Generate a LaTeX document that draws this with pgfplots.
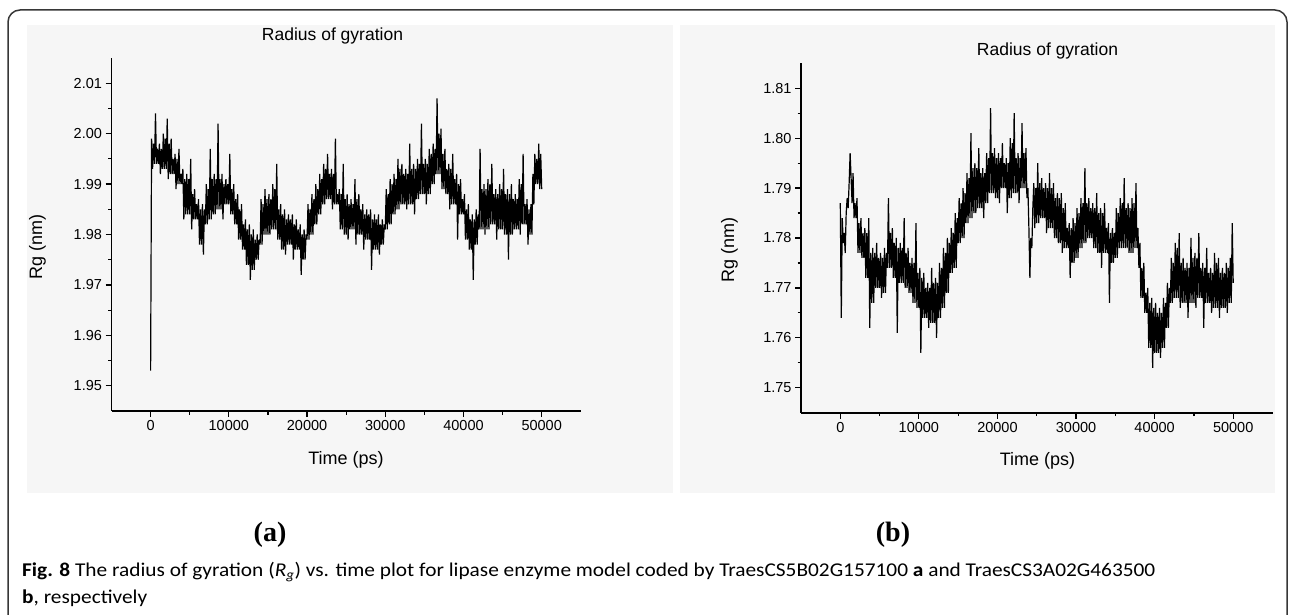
\documentclass[border=0pt]{standalone}
\usepackage{pgfplots}
\pgfplotsset{compat=1.18}
\usepackage{graphicx}
\usepackage{fontspec}
\setmainfont{Liberation Sans}
\newfontfamily\capfont{Carlito}
\newfontfamily\lserif{Liberation Serif}
\definecolor{bgpanel}{RGB}{246,246,246}
\definecolor{framec}{RGB}{55,55,55}

\pgfplotsset{rgstyle/.style={
  scale only axis,
  axis x line*=bottom, axis y line*=left,
  axis line style={line width=1.6pt, -},
  every tick/.style={black, line width=1.2pt},
  major tick length=6pt, minor tick length=3.5pt,
  tick align=outside,
  xmin=-5000, xmax=55000,
  xtick={0,10000,20000,30000,40000,50000},
  minor x tick num=1, minor y tick num=1,
  scaled x ticks=false, scaled y ticks=false,
  /pgf/number format/assume math mode=true,
  xticklabel style={font=\fontsize{14.5}{17}\selectfont, /pgf/number format/.cd, fixed, set thousands separator={}},
  yticklabel style={font=\fontsize{14.5}{17}\selectfont, /pgf/number format/.cd, fixed, fixed zerofill, precision=2},
}}

\begin{document}
\begin{tikzpicture}
\useasboundingbox (0pt,0pt) rectangle (1290pt,-615pt);
\fill[white] (0pt,0pt) rectangle (1290pt,-615pt);
\fill[bgpanel] (27pt,-25pt) rectangle (673pt,-493pt);
\fill[bgpanel] (680pt,-25pt) rectangle (1275pt,-493pt);
\draw[framec, line width=1.5pt, rounded corners=12pt] (8pt,-640pt) -- (8pt,-10pt) -- (1287pt,-10pt) -- (1287pt,-640pt);

% panel (a)
\begin{axis}[rgstyle,
  at={(111.5pt,-411pt)}, anchor=south west,
  width=469.3pt, height=353pt,
  ymin=1.945, ymax=2.015,
  ytick={1.95,1.96,1.97,1.98,1.99,2.00,2.01},
]
\addplot[black, line width=1.2pt, line join=bevel] table[header=false, row sep=\\, x expr=\coordindex*125, y index=0] {
1.953\\
1.999\\1.993\\1.998\\1.994\\2.004\\1.994\\1.997\\1.994\\1.998\\1.992\\1.997\\1.993\\
2.000\\1.993\\1.999\\1.993\\2.003\\1.991\\1.998\\1.992\\1.999\\1.992\\1.995\\1.992\\
1.996\\1.989\\1.995\\1.990\\1.997\\1.990\\1.992\\1.990\\1.993\\1.983\\1.991\\1.984\\
1.992\\1.984\\1.991\\1.984\\1.995\\1.981\\1.988\\1.983\\1.989\\1.983\\1.986\\1.983\\
1.987\\1.978\\1.985\\1.978\\1.986\\1.976\\1.985\\1.982\\1.990\\1.982\\1.989\\1.983\\
1.997\\1.983\\1.991\\1.984\\1.992\\1.984\\1.991\\1.985\\2.002\\1.985\\1.991\\1.985\\
1.992\\1.983\\1.990\\1.986\\1.991\\1.986\\1.990\\1.986\\1.996\\1.984\\1.989\\1.984\\
1.990\\1.982\\1.987\\1.982\\1.988\\1.979\\1.985\\1.979\\1.986\\1.977\\1.982\\1.977\\
1.983\\1.974\\1.981\\1.974\\1.982\\1.971\\1.980\\1.973\\1.981\\1.973\\1.979\\1.975\\
1.980\\1.975\\1.979\\1.978\\1.987\\1.978\\1.986\\1.980\\1.989\\1.980\\1.987\\1.980\\
1.988\\1.980\\1.987\\1.981\\1.990\\1.981\\1.989\\1.981\\1.994\\1.979\\1.985\\1.979\\
1.986\\1.977\\1.984\\1.977\\1.985\\1.976\\1.983\\1.978\\1.984\\1.978\\1.983\\1.978\\
1.984\\1.975\\1.982\\1.977\\1.983\\1.977\\1.981\\1.977\\1.982\\1.972\\1.980\\1.975\\
1.981\\1.975\\1.980\\1.979\\1.986\\1.979\\1.985\\1.980\\1.988\\1.980\\1.987\\1.982\\
1.990\\1.982\\1.989\\1.984\\1.992\\1.984\\1.991\\1.986\\1.994\\1.986\\1.993\\1.987\\
1.996\\1.987\\1.992\\1.987\\1.993\\1.985\\1.992\\1.986\\1.999\\1.986\\1.988\\1.986\\
1.989\\1.981\\1.988\\1.981\\1.994\\1.980\\1.987\\1.980\\1.988\\1.979\\1.986\\1.981\\
1.987\\1.981\\1.986\\1.981\\1.991\\1.978\\1.987\\1.980\\1.988\\1.980\\1.985\\1.980\\
1.986\\1.977\\1.984\\1.979\\1.985\\1.979\\1.984\\1.979\\1.985\\1.973\\1.983\\1.977\\
1.984\\1.977\\1.983\\1.977\\1.984\\1.976\\1.982\\1.978\\1.983\\1.978\\1.982\\1.981\\
1.989\\1.981\\1.988\\1.982\\1.991\\1.982\\1.990\\1.984\\1.992\\1.984\\1.991\\1.985\\
1.995\\1.985\\1.993\\1.986\\1.994\\1.986\\1.992\\1.986\\1.993\\1.985\\1.992\\1.986\\
1.998\\1.986\\1.993\\1.986\\1.994\\1.984\\1.993\\1.987\\1.995\\1.987\\1.994\\1.988\\
2.002\\1.988\\1.994\\1.988\\1.995\\1.986\\1.994\\1.988\\1.997\\1.988\\1.996\\1.990\\
1.998\\1.990\\1.997\\1.992\\2.007\\1.992\\2.000\\1.992\\2.001\\1.989\\1.996\\1.989\\
1.997\\1.988\\1.993\\1.988\\1.994\\1.985\\1.993\\1.986\\1.996\\1.986\\1.991\\1.986\\
1.992\\1.979\\1.990\\1.984\\1.991\\1.984\\1.987\\1.984\\1.988\\1.979\\1.985\\1.979\\
1.986\\1.977\\1.983\\1.977\\1.984\\1.971\\1.983\\1.978\\1.985\\1.978\\1.984\\1.981\\
1.997\\1.981\\1.989\\1.981\\1.990\\1.980\\1.989\\1.981\\1.991\\1.981\\1.990\\1.982\\
1.994\\1.982\\1.988\\1.982\\1.989\\1.979\\1.988\\1.981\\1.990\\1.981\\1.989\\1.981\\
1.993\\1.980\\1.988\\1.980\\1.989\\1.975\\1.988\\1.980\\1.990\\1.980\\1.987\\1.981\\
1.988\\1.981\\1.987\\1.981\\1.991\\1.980\\1.990\\1.982\\1.996\\1.982\\1.986\\1.982\\
1.987\\1.978\\1.985\\1.980\\1.986\\1.980\\1.992\\1.986\\1.996\\1.990\\1.995\\1.990\\
1.998\\1.989\\1.996\\1.989\\
};
\end{axis}

% panel (b)
\begin{axis}[rgstyle,
  at={(801pt,-412.7pt)}, anchor=south west,
  width=471.5pt, height=349.4pt,
  ymin=1.745, ymax=1.815,
  ytick={1.75,1.76,1.77,1.78,1.79,1.80,1.81},
]
\addplot[black, line width=1.2pt, line join=bevel] table[header=false, row sep=\\, x expr=\coordindex*125, y index=0] {
1.787\\
1.764\\1.784\\1.779\\1.781\\1.777\\1.785\\1.788\\1.786\\1.791\\1.797\\1.792\\1.787\\
1.793\\1.784\\1.787\\1.784\\1.788\\1.777\\1.783\\1.777\\1.784\\1.776\\1.781\\1.776\\
1.782\\1.772\\1.781\\1.772\\1.784\\1.762\\1.777\\1.767\\1.778\\1.767\\1.777\\1.770\\
1.779\\1.770\\1.776\\1.770\\1.777\\1.768\\1.776\\1.769\\1.778\\1.769\\1.777\\1.774\\
1.788\\1.774\\1.781\\1.774\\1.782\\1.772\\1.779\\1.772\\1.780\\1.761\\1.778\\1.771\\
1.779\\1.771\\1.778\\1.771\\1.784\\1.770\\1.777\\1.770\\1.778\\1.769\\1.775\\1.769\\
1.776\\1.767\\1.775\\1.767\\1.783\\1.766\\1.773\\1.766\\1.774\\1.757\\1.772\\1.764\\
1.773\\1.764\\1.770\\1.764\\1.771\\1.762\\1.770\\1.763\\1.774\\1.763\\1.771\\1.763\\
1.772\\1.760\\1.771\\1.764\\1.775\\1.764\\1.774\\1.766\\1.778\\1.766\\1.777\\1.769\\
1.780\\1.769\\1.779\\1.773\\1.782\\1.773\\1.781\\1.774\\1.785\\1.774\\1.784\\1.779\\
1.788\\1.779\\1.787\\1.780\\1.790\\1.780\\1.789\\1.783\\1.793\\1.783\\1.792\\1.784\\
1.801\\1.784\\1.794\\1.785\\1.795\\1.785\\1.794\\1.786\\1.798\\1.786\\1.793\\1.786\\
1.794\\1.784\\1.793\\1.787\\1.797\\1.787\\1.796\\1.789\\1.806\\1.789\\1.797\\1.789\\
1.798\\1.788\\1.796\\1.788\\1.797\\1.787\\1.796\\1.790\\1.799\\1.790\\1.795\\1.790\\
1.796\\1.785\\1.795\\1.788\\1.800\\1.788\\1.799\\1.789\\1.805\\1.789\\1.796\\1.789\\
1.797\\1.787\\1.796\\1.790\\1.803\\1.790\\1.797\\1.790\\1.798\\1.788\\1.790\\1.782\\
1.772\\1.780\\1.778\\1.786\\1.791\\1.782\\1.790\\1.783\\1.795\\1.783\\1.791\\1.784\\
1.792\\1.784\\1.790\\1.784\\1.791\\1.781\\1.790\\1.782\\1.793\\1.782\\1.790\\1.782\\
1.791\\1.780\\1.788\\1.780\\1.789\\1.779\\1.788\\1.779\\1.789\\1.777\\1.786\\1.778\\
1.787\\1.778\\1.782\\1.778\\1.783\\1.772\\1.782\\1.775\\1.784\\1.775\\1.783\\1.776\\
1.786\\1.776\\1.785\\1.778\\1.788\\1.778\\1.787\\1.779\\1.794\\1.779\\1.787\\1.780\\
1.788\\1.780\\1.786\\1.780\\1.787\\1.778\\1.786\\1.778\\1.789\\1.777\\1.785\\1.777\\
1.786\\1.774\\1.785\\1.777\\1.787\\1.777\\1.782\\1.777\\1.783\\1.767\\1.781\\1.775\\
1.782\\1.775\\1.781\\1.776\\1.786\\1.776\\1.785\\1.778\\1.788\\1.778\\1.787\\1.778\\
1.792\\1.778\\1.786\\1.778\\1.787\\1.777\\1.786\\1.777\\1.788\\1.777\\1.787\\1.778\\
1.791\\1.778\\1.782\\1.774\\1.779\\1.768\\1.774\\1.768\\1.775\\1.765\\1.769\\1.765\\
1.770\\1.758\\1.767\\1.758\\1.768\\1.754\\1.766\\1.757\\1.767\\1.757\\1.765\\1.757\\
1.766\\1.756\\1.765\\1.758\\1.768\\1.758\\1.767\\1.762\\1.771\\1.762\\1.770\\1.767\\
1.776\\1.767\\1.775\\1.768\\1.779\\1.768\\1.778\\1.768\\1.781\\1.766\\1.775\\1.767\\
1.776\\1.767\\1.774\\1.767\\1.775\\1.764\\1.774\\1.767\\1.780\\1.767\\1.776\\1.767\\
1.777\\1.766\\1.776\\1.768\\1.781\\1.768\\1.774\\1.768\\1.775\\1.762\\1.774\\1.767\\
1.778\\1.767\\1.773\\1.767\\1.774\\1.765\\1.773\\1.766\\1.777\\1.766\\1.775\\1.766\\
1.776\\1.764\\1.773\\1.766\\1.774\\1.766\\1.773\\1.766\\1.775\\1.765\\1.774\\1.767\\
1.776\\1.767\\1.783\\1.771\\
};
\end{axis}

% titles and labels
\node[font=\fontsize{17.5}{20}\selectfont, anchor=base] at (332.5pt,-41pt) {Radius of gyration};
\node[font=\fontsize{17.5}{20}\selectfont, anchor=base] at (1047.5pt,-55.7pt) {Radius of gyration};
\node[font=\fontsize{18}{20}\selectfont, anchor=base] at (346pt,-464.3pt) {Time (ps)};
\node[font=\fontsize{18}{20}\selectfont, anchor=base] at (1037.5pt,-465.7pt) {Time (ps)};
\node[font=\fontsize{18}{20}\selectfont, anchor=base, rotate=90] at (42pt,-247pt) {Rg (nm)};
\node[font=\fontsize{18}{20}\selectfont, anchor=base, rotate=90] at (734pt,-249.5pt) {Rg (nm)};
\node[font=\lserif\bfseries\fontsize{28}{30}\selectfont, anchor=base] at (270pt,-541.7pt) {(a)};
\node[font=\lserif\bfseries\fontsize{28}{30}\selectfont, anchor=base] at (893pt,-541.7pt) {(b)};

% caption
\node[anchor=base west, inner sep=0pt] at (22pt,-576pt) {\resizebox{1133pt}{\height}{\capfont\fontsize{19.5}{27}\selectfont\begin{tabular}[t]{@{}l@{}}\textbf{Fig. 8} The radius of gyration (\textit{R}\textsubscript{\textit{g}}) vs. time plot for lipase enzyme model coded by TraesCS5B02G157100 \textbf{a} and TraesCS3A02G463500\\ \textbf{b}, respectively\end{tabular}}};
\end{tikzpicture}
\end{document}
